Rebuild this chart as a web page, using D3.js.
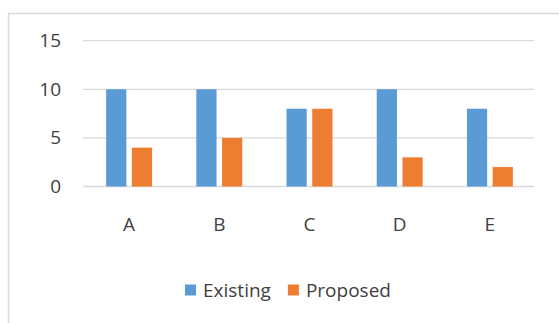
<!DOCTYPE html>
<html>
<head>
<meta charset="utf-8">
<script src="https://cdn.jsdelivr.net/npm/d3@7"></script>
<style>
  html, body { margin: 0; padding: 0; background: #fff; }
  svg { display: block; }
  text { font-family: "Open Sans", sans-serif; fill: #404040; }
</style>
</head>
<body>
<svg id="chart" width="559" height="323"></svg>
<script>
const categories = ["A", "B", "C", "D", "E"];
const seriesNames = ["Existing", "Proposed"];
const existing = [10, 10, 8, 10, 8];
const proposed = [4, 5, 8, 3, 2];
const yTicks = [0, 5, 10, 15];
const colors = ["#5B9BD5", "#ED7D31"];

const svg = d3.select("#chart");
const FONT = 19;
const TEXT = "#404040";

// chart frame (cropped on right/bottom)
svg.append("rect")
  .attr("x", 8.5).attr("y", 13.5)
  .attr("width", 700).attr("height", 500)
  .attr("fill", "#fff")
  .attr("stroke", "#d9d9d9").attr("stroke-width", 1.5);

const plot = { left: 84, right: 535, top: 40.7, bottom: 186.5 };

const x0 = d3.scaleBand().domain(categories).range([plot.left, plot.right]);
const x1 = d3.scaleBand().domain(seriesNames)
  .range([0, x0.bandwidth()]).paddingInner(0.214).paddingOuter(0.86);
const y = d3.scaleLinear().domain([0, 15]).range([plot.bottom, plot.top]);

// gridlines
svg.append("g").selectAll("line").data(yTicks).join("line")
  .attr("x1", plot.left - 1).attr("x2", plot.right - 1)
  .attr("y1", d => y(d)).attr("y2", d => y(d))
  .attr("stroke", "#d9d9d9").attr("stroke-width", 1.3);

// y axis labels
const yAxis = d3.axisLeft(y).tickValues(yTicks).tickSize(0).tickPadding(0);
const gy = svg.append("g").attr("transform", "translate(61,0)").call(yAxis);
gy.select(".domain").remove();
gy.selectAll("text").attr("font-size", FONT).attr("fill", TEXT)
  .style("font-family", '"Open Sans", sans-serif');

// bars
const rows = categories.map((c, i) => ({ cat: c, vals: [existing[i], proposed[i]] }));
const groups = svg.append("g").selectAll("g").data(rows).join("g")
  .attr("transform", d => `translate(${x0(d.cat)},0)`);
groups.selectAll("rect")
  .data(d => d.vals.map((v, j) => ({ name: seriesNames[j], v, j })))
  .join("rect")
  .attr("x", d => x1(d.name))
  .attr("width", x1.bandwidth())
  .attr("y", d => y(d.v))
  .attr("height", d => y(0) - y(d.v))
  .attr("fill", d => colors[d.j]);

// x axis labels
const xAxis = d3.axisBottom(x0).tickSize(0).tickPadding(0);
const gx = svg.append("g").attr("transform", "translate(0,217)").call(xAxis);
gx.select(".domain").remove();
gx.selectAll("text").attr("font-size", FONT).attr("fill", TEXT)
  .attr("dy", "0.71em")
  .style("font-family", '"Open Sans", sans-serif');

// legend
const legend = svg.append("g");
let lx = 185;
const ly = 290;
seriesNames.forEach((name, i) => {
  legend.append("rect").attr("x", lx).attr("y", ly - 5.5)
    .attr("width", 11).attr("height", 11).attr("fill", colors[i]);
  const t = legend.append("text").attr("x", lx + 18).attr("y", ly)
    .attr("dy", "0.35em").attr("font-size", FONT).text(name);
  lx += 18 + t.node().getComputedTextLength() + 17;
});
</script>
</body>
</html>
